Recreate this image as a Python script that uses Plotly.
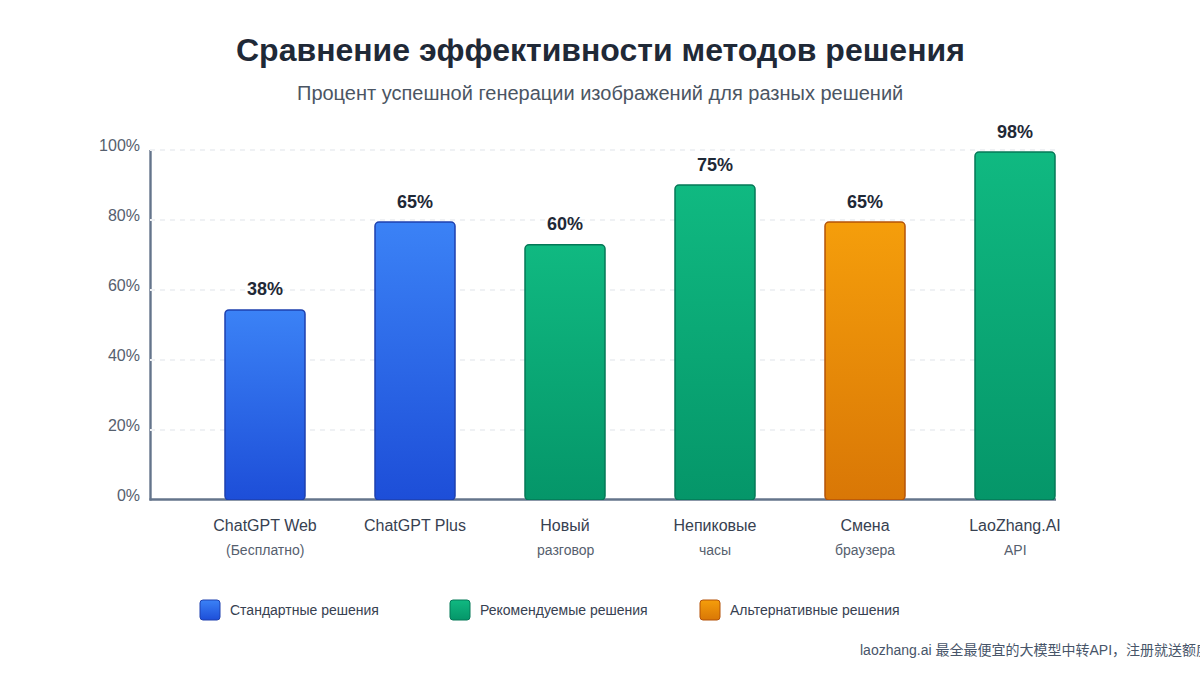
import plotly.graph_objects as go

FONT = "Liberation Sans, Arial, sans-serif"
CJK = "Liberation Sans, Noto Sans CJK SC, sans-serif"

categories = ["ChatGPT Web", "ChatGPT Plus", "Новый", "Непиковые", "Смена", "LaoZhang.AI"]
sublabels = ["(Бесплатно)", "", "разговор", "часы", "браузера", "API"]
bar_heights = [54.3, 79.4, 72.9, 90.0, 79.4, 99.4]
value_labels = ["38%", "65%", "60%", "75%", "65%", "98%"]
groups = [0, 0, 1, 1, 2, 1]
group_names = ["Стандартные решения", "Рекомендуемые решения", "Альтернативные решения"]
gradient_tops = ["#3b82f6", "#10b981", "#f59e0b"]
gradient_bottoms = ["#1d4ed8", "#059669", "#d97706"]
border_colors = ["#1e40af", "#047857", "#b45309"]
y_ticks = [0, 20, 40, 60, 80, 100]
y_tick_labels = ["0%", "20%", "40%", "60%", "80%", "100%"]
title = "Сравнение эффективности методов решения"
subtitle = "Процент успешной генерации изображений для разных решений"
footer = "laozhang.ai 最全最便宜的大模型中转API，注册就送额度"

W, H = 1200, 675
L, R, T, B = 150, 144, 148, 175
PW, PH = W - L - R, H - T - B


def px(x):
    return (x - L) / PW


def py(y):
    return (H - B - y) / PH


fig = go.Figure()
for g, name in enumerate(group_names):
    idx = [i for i, v in enumerate(groups) if v == g]
    fig.add_bar(
        x=[categories[i] for i in idx],
        y=[bar_heights[i] for i in idx],
        name=name,
        width=80 / 150,
        marker=dict(color=gradient_bottoms[g], line=dict(color=border_colors[g], width=1.5)),
        cliponaxis=False,
        showlegend=False,
        hoverinfo="skip",
    )

annotations = [
    dict(text=f"<b>{title}</b>", x=px(600), y=py(50), xref="paper", yref="paper", showarrow=False,
         xanchor="center", yanchor="middle", font=dict(family=FONT, size=32, color="#1f2937")),
    dict(text=subtitle, x=px(600), y=py(93), xref="paper", yref="paper", showarrow=False,
         xanchor="center", yanchor="middle", font=dict(family=FONT, size=20, color="#4b5563")),
    dict(text=footer, x=px(858), y=py(650), xref="paper", yref="paper", showarrow=False,
         xanchor="left", yanchor="middle", font=dict(family=CJK, size=14, color="#475569")),
]
for c, h, lab in zip(categories, bar_heights, value_labels):
    annotations.append(dict(text=f"<b>{lab}</b>", x=c, y=h, yshift=8.5, showarrow=False, xanchor="center",
                            yanchor="bottom", font=dict(family=FONT, size=18, color="#1f2937")))
for c, s in zip(categories, sublabels):
    if s:
        annotations.append(dict(text=s, x=c, y=py(550), yref="paper", showarrow=False, xanchor="center",
                                yanchor="middle", font=dict(family=FONT, size=14, color="#56606e")))

shapes = [
    dict(type="line", xref="paper", yref="paper", x0=px(149.5), x1=1, y0=py(499.5), y1=py(499.5), layer="below",
         line=dict(color="#64748b", width=2.4)),
    dict(type="line", xref="paper", yref="paper", x0=px(150.5), x1=px(150.5), y0=py(500.5), y1=py(150), layer="below",
         line=dict(color="#64748b", width=2.4)),
]
for g, name in enumerate(group_names):
    x0 = 200 + 250 * g
    shapes.append(dict(type="rect", xref="paper", yref="paper", x0=px(x0), x1=px(x0 + 20), y0=py(620), y1=py(600),
                       layer="above", fillcolor=gradient_bottoms[g], line=dict(color=border_colors[g], width=1)))
    annotations.append(dict(text=name, x=px(x0 + 28), y=py(610), xref="paper", yref="paper", showarrow=False,
                            xanchor="left", yanchor="middle", font=dict(family=FONT, size=14, color="#374151")))

fig.update_layout(
    width=W, height=H, margin=dict(l=L, r=R, t=T, b=B, pad=0), paper_bgcolor="white", plot_bgcolor="white",
    barmode="overlay", showlegend=False, annotations=annotations, shapes=shapes,
    font=dict(family=FONT),
    xaxis=dict(type="category", categoryorder="array", categoryarray=categories, range=[-115 / 150, 791 / 150],
               showgrid=False, showline=False, ticks="", zeroline=False,
               tickfont=dict(family=FONT, size=16, color="#374151"), ticklabelstandoff=14),
    yaxis=dict(range=[0, 100 + 2 / 3.5], tickvals=y_ticks, ticktext=y_tick_labels, showgrid=True,
               gridcolor="#eff1f4", griddash="5px,5px", gridwidth=2, showline=False, ticks="",
               zeroline=False, tickfont=dict(family=FONT, size=16, color="#56606e"), ticklabelshift=-5,
               ticklabelstandoff=9),
)

colors_js = str([[a, b] for a, b in zip(gradient_tops, gradient_bottoms)])
post = """
document.body.style.margin='0';
document.documentElement.style.overflow='hidden';
var gd=document.getElementById('{plot_id}');
var svg=gd.querySelector('svg.main-svg');
var NS='http://www.w3.org/2000/svg';
var defs=svg.querySelector('defs');
var cols=%s;
cols.forEach(function(c,i){
  var g=document.createElementNS(NS,'linearGradient');
  g.setAttribute('id','grad'+i);g.setAttribute('x1','0');g.setAttribute('y1','0');g.setAttribute('x2','0');g.setAttribute('y2','1');
  [[0,c[0]],[1,c[1]]].forEach(function(s){var st=document.createElementNS(NS,'stop');
    st.setAttribute('offset',s[0]);st.setAttribute('stop-color',s[1]);g.appendChild(st);});
  defs.appendChild(g);
});
function round(p,r){
  var b=p.getBBox(),x=b.x,y=b.y,w=b.width,h=b.height;
  p.setAttribute('d','M'+(x+r)+','+y+'H'+(x+w-r)+'A'+r+','+r+' 0 0 1 '+(x+w)+','+(y+r)+'V'+(y+h-r)+'A'+r+','+r+' 0 0 1 '+(x+w-r)+','+(y+h)+'H'+(x+r)+'A'+r+','+r+' 0 0 1 '+x+','+(y+h-r)+'V'+(y+r)+'A'+r+','+r+' 0 0 1 '+(x+r)+','+y+'Z');
}
gd.querySelectorAll('.barlayer .trace').forEach(function(t,i){
  t.querySelectorAll('.point path').forEach(function(p){round(p,4);p.style.fill='url(#grad'+i+')';});
});
gd.querySelectorAll('.layer-above .shapelayer path').forEach(function(p,i){round(p,3);p.style.fill='url(#grad'+i+')';});
""" % colors_js

fig.write_html("out.html", post_script=post, config=dict(displayModeBar=False))
